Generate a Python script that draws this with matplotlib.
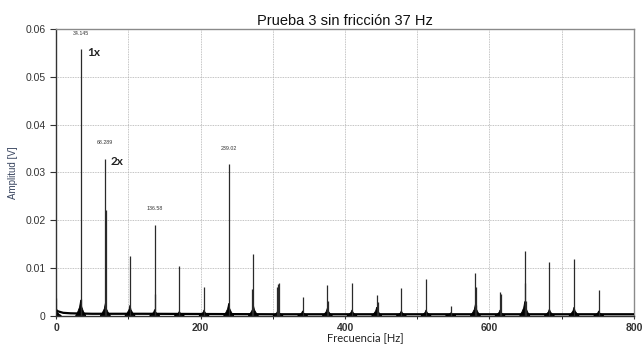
import numpy as np
import matplotlib
matplotlib.use("Agg")
import matplotlib.pyplot as plt
from matplotlib.ticker import MultipleLocator, FuncFormatter

# Espectro de amplitud: picos en multiplos de la frecuencia de giro (34.145 Hz)
frec_picos = [0.5, 34.145, 68.289, 102.4, 136.58, 170.7, 204.9, 239.02, 273.2,
              307.3, 341.4, 375.6, 409.7, 443.9, 478.0, 512.2, 546.3, 580.5,
              614.6, 648.8, 682.9, 717.0, 751.2]
amp_picos = [0.0038, 0.0559, 0.0329, 0.0125, 0.0191, 0.0105, 0.0060, 0.0317,
             0.0130, 0.0066, 0.0040, 0.0064, 0.0068, 0.0043, 0.0057, 0.0076,
             0.0020, 0.0089, 0.0049, 0.0136, 0.0113, 0.0118, 0.0054]
# altura de la base ensanchada de cada pico
amp_base = [0.0012, 0.0033, 0.0026, 0.0022, 0.0013, 0.0009, 0.0012, 0.0026,
            0.0022, 0.0012, 0.0010, 0.0016, 0.0012, 0.0018, 0.0010, 0.0012,
            0.0006, 0.0024, 0.0012, 0.0030, 0.0014, 0.0018, 0.0010]

# lineas secundarias junto a los picos principales
frec_sec = [35.0, 68.9, 137.2, 271.5, 305.6, 308.0, 376.9, 445.2, 580.9,
            582.0, 615.8, 649.4, 650.6]
amp_sec = [0.0035, 0.0221, 0.0045, 0.0055, 0.0060, 0.0068, 0.0030, 0.0028,
           0.0061, 0.0022, 0.0045, 0.0068, 0.0031]

# piso de ruido
frec_ruido = [0, 3, 10, 20, 50, 120, 300, 500, 800]
amp_ruido = [0.0012, 0.0009, 0.0006, 0.0005, 0.0004, 0.0004, 0.0003, 0.0003, 0.0003]

etiquetas = [(34.145, 0.0559, "34.145"), (68.289, 0.0329, "68.289"),
             (136.58, 0.0191, "136.58"), (239.02, 0.0317, "239.02")]

fig = plt.figure(figsize=(6.43, 3.44), dpi=100)
ax = fig.add_axes([0.0871, 0.0823, 0.8989, 0.8325])

ax.plot(frec_ruido, amp_ruido, color="black", lw=1.6, zorder=3)
# base ensanchada de cada pico
for f, a in zip(frec_picos, amp_base):
    ax.fill([f - 7, f - 4, f - 1.5, f, f + 1.5, f + 4, f + 7],
            [0, a * 0.25, a * 0.55, a, a * 0.55, a * 0.25, 0],
            color="black", lw=0.6, zorder=3)
ax.vlines(frec_picos, 0, amp_picos, color="#2a2a2a", lw=0.9, zorder=4)
ax.vlines(frec_sec, 0, amp_sec, color="#2a2a2a", lw=0.9, zorder=4)

for f, a, txt in etiquetas:
    ax.text(f, a + 0.0033, txt, fontsize=3.8, ha="center", va="center",
            color="#333333", family="Liberation Sans")
ax.text(43, 0.0551, "1x", fontsize=8.5, fontweight="bold", family="Lato",
        ha="left", va="center", color="#222222")
ax.text(76, 0.0322, "2x", fontsize=8.5, fontweight="bold", family="Lato",
        ha="left", va="center", color="#222222")

ax.set_xlim(0, 800)
ax.set_ylim(0, 0.06)
ax.xaxis.set_major_locator(MultipleLocator(200))
ax.xaxis.set_minor_locator(MultipleLocator(100))
ax.yaxis.set_major_locator(MultipleLocator(0.01))
ax.yaxis.set_major_formatter(FuncFormatter(lambda v, p: "0" if abs(v) < 1e-9 else f"{v:.2f}"))

ax.grid(True, which="both", axis="x", color="#b0b0b0", lw=0.6, ls=(0, (1, 1)))
ax.grid(True, which="major", axis="y", color="#b0b0b0", lw=0.6, ls=(0, (1, 1)))
ax.set_axisbelow(True)

for lbl in ax.get_xticklabels() + ax.get_yticklabels():
    lbl.set_family("Liberation Sans")
ax.tick_params(axis="both", labelsize=7.5, colors="#333333", length=4, width=0.8)
ax.tick_params(axis="x", which="both", length=2, pad=3)
for lbl in ax.get_xticklabels():
    lbl.set_fontweight("bold")

for s in ["left", "bottom"]:
    ax.spines[s].set_color("#333333")
    ax.spines[s].set_linewidth(1.0)
for s in ["top", "right"]:
    ax.spines[s].set_color("#8a8a8a")
    ax.spines[s].set_linewidth(1.0)

ax.set_title("Prueba 3 sin fricción 37 Hz", fontsize=10.5, family="Liberation Sans",
             pad=3, color="#111111")
ax.set_ylabel("Amplitud [V]", fontsize=7, family="Liberation Sans", color="#3a4660")
ax.yaxis.set_label_coords(-0.065, 0.5)
ax.set_xlabel("Frecuencia [Hz]", fontsize=8, family="Lato", color="#222222")
ax.xaxis.set_label_coords(0.535, -0.058)

fig.savefig("out.png", dpi=100)
